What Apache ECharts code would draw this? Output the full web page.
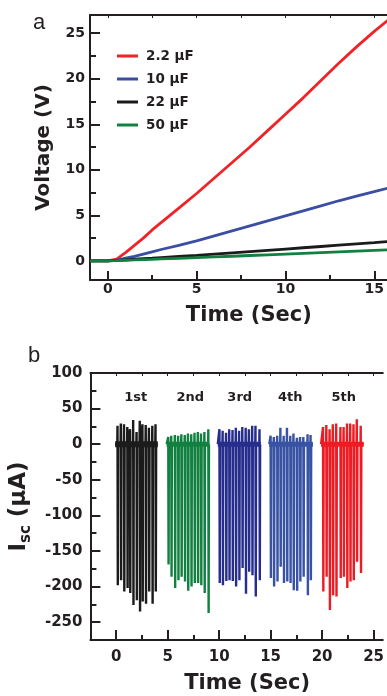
<!DOCTYPE html>
<html>
<head>
<meta charset="utf-8">
<script src="https://cdn.jsdelivr.net/npm/echarts@6/dist/echarts.min.js"></script>
<style>
  html, body { margin: 0; padding: 0; background: #fff; }
  #chart { width: 387px; height: 696px; }
</style>
</head>
<body>
<div id="chart"></div>
<script>
// panel a: charging curves
const timeA = [-1, 0, 0.5, 1, 1.5, 2, 2.5, 3, 4, 5, 6, 7, 8, 9, 10, 11, 12, 13, 14, 15, 16];
const volt22 = [0, 0, 0.2, 0.9, 1.7, 2.5, 3.4, 4.2, 5.8, 7.4, 9.1, 10.8, 12.5, 14.3, 16.1, 17.9, 19.8, 21.7, 23.5, 25.2, 26.8];
const volt10 = [0, 0, 0.05, 0.3, 0.5, 0.75, 1.0, 1.25, 1.7, 2.2, 2.75, 3.3, 3.85, 4.4, 4.95, 5.5, 6.05, 6.6, 7.1, 7.6, 8.1];
const volt220 = [0, 0, 0.05, 0.12, 0.18, 0.25, 0.3, 0.36, 0.48, 0.6, 0.74, 0.88, 1.02, 1.16, 1.3, 1.44, 1.58, 1.72, 1.86, 2.0, 2.15];
const volt50 = [0, 0, 0.03, 0.07, 0.1, 0.14, 0.17, 0.21, 0.28, 0.35, 0.43, 0.51, 0.59, 0.67, 0.75, 0.83, 0.91, 0.99, 1.07, 1.15, 1.23];
const capNames = ['2.2 μF', '10 μF', '22 μF', '50 μF'];

const ticksAxMajor = [0, 5, 10, 15];
const ticksAxMinor = [2.5, 7.5, 12.5];
const ticksAyMajor = [0, 5, 10, 15, 20, 25];
const ticksAyMinor = [2.5, 7.5, 12.5, 17.5, 22.5];

// panel b: short circuit current, five cycles
const t1 = [0.13, 0.45, 0.76, 1.08, 1.34, 1.65, 1.98, 2.29, 2.55, 2.87, 3.18, 3.51, 3.82];
const top1 = [26, 29, 28, 24, 21, 34, 17, 33, 28, 27, 23, 26, 28];
const bot1 = [-198, -191, -207, -202, -209, -226, -219, -235, -221, -224, -207, -224, -207];
const span1 = [-0.1, 4.04];

const t2 = [5.06, 5.35, 5.70, 6.02, 6.33, 6.66, 6.97, 7.29, 7.61, 7.93, 8.24, 8.57, 8.95];
const top2 = [10, 12, 13, 12, 14, 13, 15, 14, 16, 17, 15, 17, 21];
const bot2 = [-169, -186, -202, -191, -186, -193, -206, -200, -195, -195, -198, -209, -237];
const span2 = [4.9, 9.04];

const t3 = [10.03, 10.34, 10.67, 10.98, 11.30, 11.62, 11.94, 12.25, 12.58, 12.89, 13.21, 13.53, 13.92];
const top3 = [21, 19, 16, 21, 20, 23, 19, 24, 23, 21, 26, 26, 21];
const bot3 = [-195, -198, -192, -191, -192, -200, -191, -174, -210, -179, -184, -214, -191];
const span3 = [9.87, 14.04];

const t4 = [15.0, 15.31, 15.64, 15.95, 16.27, 16.59, 16.91, 17.22, 17.55, 17.86, 18.18, 18.59, 18.88];
const top4 = [12, 10, 12, 23, 12, 23, 12, 15, 9, 10, 10, 14, 13];
const bot4 = [-188, -200, -193, -172, -195, -193, -195, -205, -206, -193, -186, -212, -191];
const span4 = [14.87, 19.1];

const t5 = [20.09, 20.41, 20.73, 21.04, 21.37, 21.78, 22.09, 22.42, 22.73, 23.05, 23.37, 23.75];
const top5 = [24, 27, 21, 28, 29, 24, 24, 29, 29, 28, 35, 26];
const bot5 = [-207, -186, -233, -212, -214, -188, -186, -202, -193, -191, -165, -181];
const span5 = [19.9, 24.04];

const cycleNames = ['1st', '2nd', '3rd', '4th', '5th'];
const cycleLabelX = [1.9, 7.2, 12.0, 16.9, 22.1];
const cycleLabelY = [65, 65, 65, 65, 65];

const ticksBxMajor = [0, 5, 10, 15, 20, 25];
const ticksBxMinor = [2.5, 7.5, 12.5, 17.5, 22.5];
const ticksByMajor = [-250, -200, -150, -100, -50, 0, 50, 100];
const ticksByMinor = [-275, -225, -175, -125, -75, -25, 25, 75];

const FONT = 'DejaVu Sans';
const INK = '#231f20';

function pairs(xs, ys) {
    let list = [];
    for (let i = 0; i < xs.length; i++) {
        list.push([xs[i], ys[i]]);
    }
    return list;
}

// trace of one cycle: each peak goes up then down and back to the baseline
function trace(ts, tops, bots, span) {
    let list = [[span[0], 0]];
    for (let i = 0; i < ts.length; i++) {
        list.push([ts[i] - 0.02, 0]);
        list.push([ts[i], tops[i]]);
        list.push([ts[i] + 0.03, bots[i]]);
        list.push([ts[i] + 0.06, 0]);
    }
    list.push([span[1], 0]);
    return list;
}

function axis(grid, pos, min, max, opt) {
    return Object.assign({
        type: 'value', gridIndex: grid, position: pos, min: min, max: max,
        axisLine: {show: false, onZero: false},
        axisTick: {show: false},
        axisLabel: {show: false},
        splitLine: {show: false}
    }, opt);
}

const lineStyle = {color: INK, width: 2};
const labelStyle = {fontFamily: FONT, fontWeight: 'bold', color: INK};

let chart = echarts.init(document.getElementById('chart'));

chart.setOption({
    animation: false,
    backgroundColor: '#fff',
    grid: [
        {left: 90, top: 15, right: 0, height: 265},
        {left: 90, top: 373, right: 0, height: 267}
    ],
    legend: {
        left: 112, top: 43, orient: 'vertical',
        icon: 'rect', itemWidth: 21, itemHeight: 3, itemGap: 7,
        data: capNames,
        textStyle: {fontFamily: FONT, fontWeight: 'bold', fontSize: 13.5, color: INK, lineHeight: 16, padding: [0, 0, 0, 3]}
    },
    graphic: [
        {type: 'text', left: 33, top: 12, style: {text: 'a', fontFamily: 'Liberation Sans', fontSize: 22, fill: INK}},
        {type: 'text', left: 28, top: 345, style: {text: 'b', fontFamily: 'Liberation Sans', fontSize: 22, fill: INK}}
    ],
    xAxis: [
        axis(0, 'bottom', -1, 15.7, {
            axisLine: {show: true, onZero: false, lineStyle: lineStyle},
            axisTick: {show: true, inside: true, length: 9, customValues: ticksAxMajor, lineStyle: lineStyle},
            axisLabel: {show: true, margin: 2, customValues: ticksAxMajor, fontSize: 14, ...labelStyle},
            name: 'Time (Sec)', nameLocation: 'middle', nameGap: 25,
            nameTextStyle: {fontSize: 21, padding: [0, 0, 0, 21], ...labelStyle}
        }),
        axis(0, 'bottom', -1, 15.7, {
            axisTick: {show: true, inside: true, length: 5, customValues: ticksAxMinor, lineStyle: lineStyle}
        }),
        axis(0, 'top', -1, 15.7, {
            axisLine: {show: true, onZero: false, lineStyle: lineStyle},
            axisTick: {show: true, inside: true, length: 3, customValues: ticksAxMajor.concat(ticksAxMinor), lineStyle: {color: INK, width: 1}}
        }),
        axis(1, 'bottom', -2.5, 25.9, {
            axisLine: {show: true, onZero: false, lineStyle: lineStyle},
            axisTick: {show: true, inside: true, length: 10, customValues: ticksBxMajor, lineStyle: lineStyle},
            axisLabel: {show: true, margin: 10, customValues: ticksBxMajor, fontSize: 15, ...labelStyle},
            name: 'Time (Sec)', nameLocation: 'middle', nameGap: 33,
            nameTextStyle: {fontSize: 21, padding: [0, 0, 0, 21], ...labelStyle}
        }),
        axis(1, 'bottom', -2.5, 25.9, {
            axisTick: {show: true, inside: true, length: 5, customValues: ticksBxMinor, lineStyle: lineStyle}
        }),
        axis(1, 'top', -2.5, 25.9, {
            axisLine: {show: true, onZero: false, lineStyle: lineStyle},
            axisTick: {show: true, inside: true, length: 3, customValues: ticksBxMajor.concat(ticksBxMinor), lineStyle: {color: INK, width: 1}}
        })
    ],
    yAxis: [
        axis(0, 'left', -2.1, 27, {
            axisLine: {show: true, onZero: false, lineStyle: lineStyle},
            axisTick: {show: true, inside: true, length: 10, customValues: ticksAyMajor, lineStyle: lineStyle},
            axisLabel: {show: true, margin: 5, customValues: ticksAyMajor, fontSize: 14, ...labelStyle},
            name: 'Voltage (V)', nameLocation: 'middle', nameGap: 36,
            nameTextStyle: {fontSize: 20, ...labelStyle}
        }),
        axis(0, 'left', -2.1, 27, {
            axisTick: {show: true, inside: true, length: 6, customValues: ticksAyMinor, lineStyle: lineStyle}
        }),
        axis(1, 'left', -275, 100, {
            axisLine: {show: true, onZero: false, lineStyle: lineStyle},
            axisTick: {show: true, inside: true, length: 10, customValues: ticksByMajor, lineStyle: lineStyle},
            axisLabel: {show: true, margin: 8, customValues: ticksByMajor, fontSize: 15, ...labelStyle},
            name: '{i|I}{s|sc}{i| (μA)}', nameLocation: 'middle', nameGap: 42,
            nameTextStyle: {
                rich: {
                    i: {fontSize: 23, lineHeight: 26, verticalAlign: 'top', ...labelStyle},
                    s: {fontSize: 15, lineHeight: 8, verticalAlign: 'bottom', ...labelStyle}
                }
            }
        }),
        axis(1, 'left', -275, 100, {
            axisTick: {show: true, inside: true, length: 6, customValues: ticksByMinor, lineStyle: lineStyle}
        })
    ],
    series: [
        {name: capNames[0], type: 'line', xAxisIndex: 0, yAxisIndex: 0, symbol: 'none',
            itemStyle: {color: '#ee2428'}, lineStyle: {width: 2.8}, data: pairs(timeA, volt22)},
        {name: capNames[1], type: 'line', xAxisIndex: 0, yAxisIndex: 0, symbol: 'none',
            itemStyle: {color: '#3b4ea3'}, lineStyle: {width: 2.8}, data: pairs(timeA, volt10)},
        {name: capNames[2], type: 'line', xAxisIndex: 0, yAxisIndex: 0, symbol: 'none',
            itemStyle: {color: '#1b1b1b'}, lineStyle: {width: 2.8}, data: pairs(timeA, volt220)},
        {name: capNames[3], type: 'line', xAxisIndex: 0, yAxisIndex: 0, symbol: 'none',
            itemStyle: {color: '#128040'}, lineStyle: {width: 2.8}, data: pairs(timeA, volt50)},

        {type: 'line', xAxisIndex: 3, yAxisIndex: 2, symbol: 'none', lineStyle: {color: '#1b1b1b', width: 2.4}, data: trace(t1, top1, bot1, span1)},
        {type: 'line', xAxisIndex: 3, yAxisIndex: 2, symbol: 'none', lineStyle: {color: '#128040', width: 2.4}, data: trace(t2, top2, bot2, span2)},
        {type: 'line', xAxisIndex: 3, yAxisIndex: 2, symbol: 'none', lineStyle: {color: '#262d8c', width: 2.4}, data: trace(t3, top3, bot3, span3)},
        {type: 'line', xAxisIndex: 3, yAxisIndex: 2, symbol: 'none', lineStyle: {color: '#3953a4', width: 2.4}, data: trace(t4, top4, bot4, span4)},
        {type: 'line', xAxisIndex: 3, yAxisIndex: 2, symbol: 'none', lineStyle: {color: '#ed1c24', width: 2.4}, data: trace(t5, top5, bot5, span5)},

        // thick noisy baseline of each cycle
        {type: 'line', xAxisIndex: 3, yAxisIndex: 2, symbol: 'none', lineStyle: {color: '#1b1b1b', width: 6}, data: pairs(span1, [0, 0])},
        {type: 'line', xAxisIndex: 3, yAxisIndex: 2, symbol: 'none', lineStyle: {color: '#128040', width: 5}, data: pairs(span2, [0, 0])},
        {type: 'line', xAxisIndex: 3, yAxisIndex: 2, symbol: 'none', lineStyle: {color: '#262d8c', width: 5}, data: pairs(span3, [0, 0])},
        {type: 'line', xAxisIndex: 3, yAxisIndex: 2, symbol: 'none', lineStyle: {color: '#3953a4', width: 5}, data: pairs(span4, [0, 0])},
        {type: 'line', xAxisIndex: 3, yAxisIndex: 2, symbol: 'none', lineStyle: {color: '#ed1c24', width: 5}, data: pairs(span5, [0, 0])},

        {type: 'scatter', xAxisIndex: 3, yAxisIndex: 2, symbolSize: 1, itemStyle: {opacity: 0},
            data: cycleNames.map(function (n, i) { return {name: n, value: [cycleLabelX[i], cycleLabelY[i]]}; }),
            label: {show: true, position: 'inside', formatter: '{b}', fontSize: 13, opacity: 1, ...labelStyle}}
    ]
});
</script>
</body>
</html>
